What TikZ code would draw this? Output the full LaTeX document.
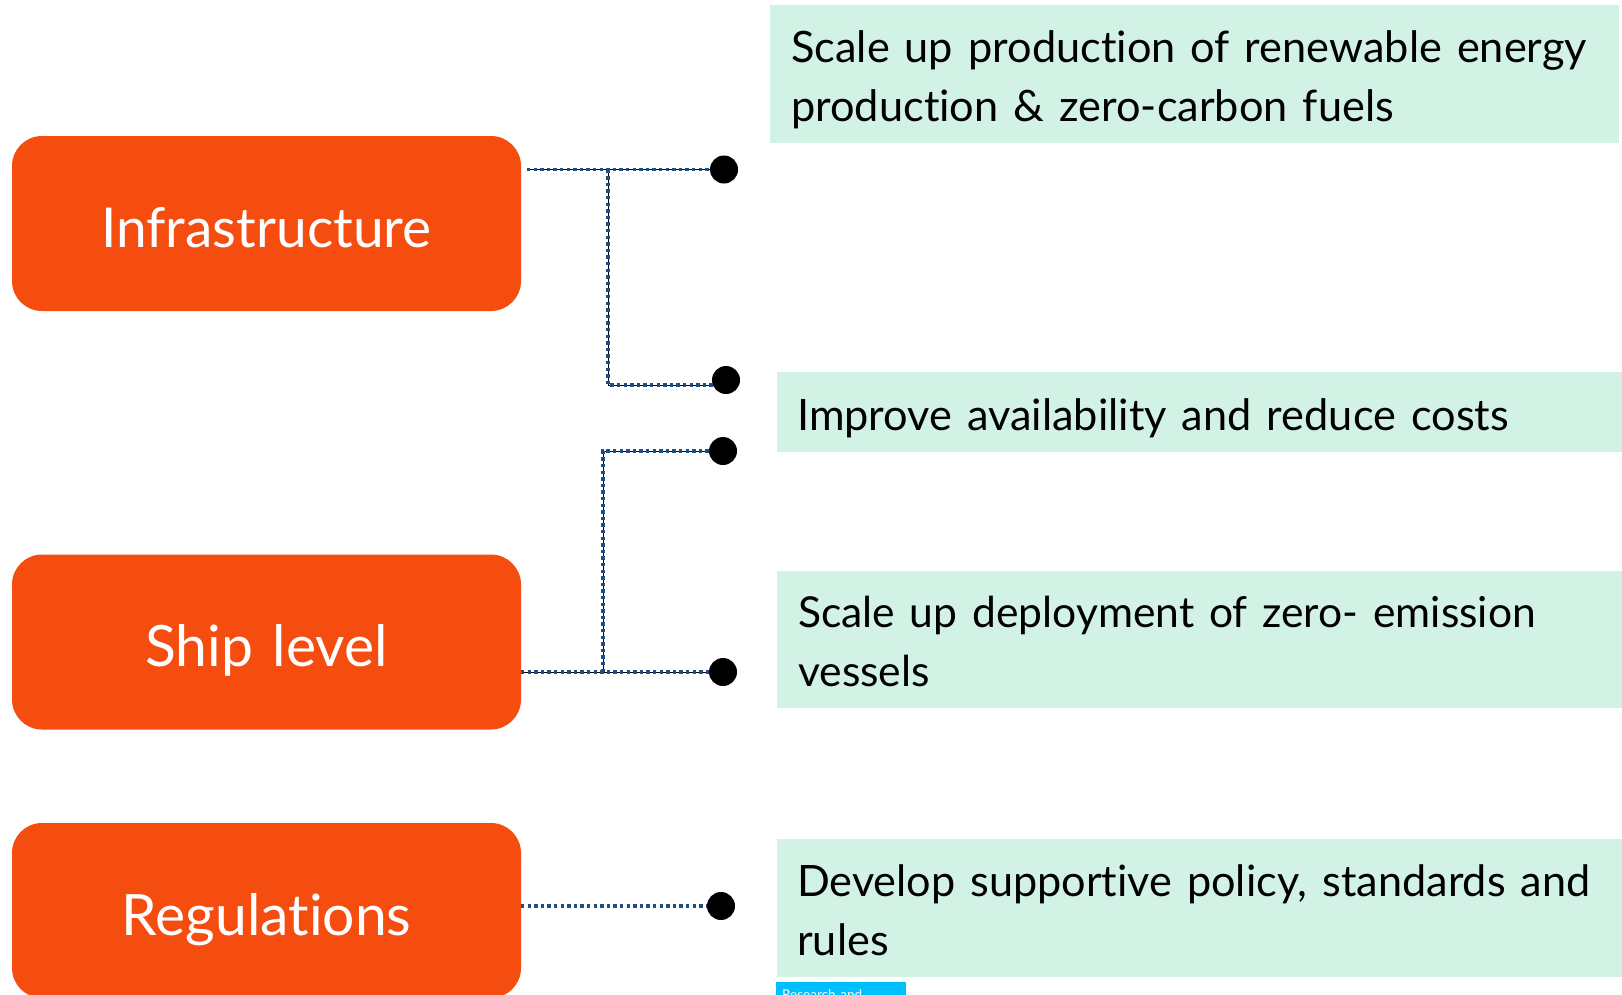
\documentclass[tikz,border=0pt]{standalone}
\usepackage{fontspec}
\setmainfont{Lato}[WordSpace=1.35,Ligatures={NoCommon,NoRare}]
\definecolor{orangebox}{HTML}{F54C0F}
\definecolor{greenbox}{HTML}{D3F2E6}
\definecolor{bluebox}{HTML}{00BFFF}
\definecolor{dotblue}{HTML}{1F4E86}
\tikzset{
  cat/.style={fill=orangebox,rounded corners=30pt,minimum width=509pt,minimum height=175pt,inner sep=0pt},
  cattext/.style={inner sep=0pt,text=white,font=\fontsize{57}{60}\selectfont},
  goal/.style={fill=greenbox,inner sep=0pt,anchor=north west},
  goaltext/.style={inner sep=0pt,align=left,anchor=west,font=\fontsize{43.3}{59.5}\selectfont},
  bullet/.style={circle,fill=black,minimum size=28pt,inner sep=0pt},
  under/.style={draw=black,line width=1pt},
  dots/.style={draw=dotblue,line width=3.5pt,dash pattern=on 3.4pt off 3.2pt},
}
\newcommand{\wire}[1]{\draw[under] #1; \draw[dots] #1;}
\begin{document}
\begin{tikzpicture}[x=1pt,y=-1pt]
\useasboundingbox (0,0) rectangle (1622,994);
\clip (0,0) rectangle (1622,994);
\fill[white] (0,0) rectangle (1622,994);
\node[cat] (infra) at (266.5,223.5) {};
\node[cat] (ship) at (266.5,642) {};
\node[cat] (reg) at (266.5,910.5) {};
\node[cattext,font=\fontsize{55}{60}\selectfont] (ti) at (266.5,228) {Infrastructure};
\node[cattext] (ts) at (266.5,650) {Ship level};
\node[cattext] (tr) at (266.5,919.5) {Regulations};
\node[goal,minimum width=849pt,minimum height=138pt] (g1) at (770,5) {};
\node[goal,minimum width=845pt,minimum height=79.5pt] (g2) at (777,372) {};
\node[goal,minimum width=845pt,minimum height=137pt] (g3) at (777,571) {};
\node[goal,minimum width=845pt,minimum height=138pt] (g4) at (777,839) {};
\node[goaltext] (t1) at (791,80) {Scale up production of renewable energy\\production \& zero-carbon fuels};
\node[goaltext] (t2) at (797,418) {Improve availability and reduce costs};
\node[goaltext,font=\fontsize{42.6}{59.5}\selectfont] (t3) at (798,641.5) {Scale up deployment of zero- emission\\vessels};
\node[goaltext,font=\fontsize{43.2}{59.5}\selectfont] (t4) at (797,910) {Develop supportive policy, standards and\\rules};
\node[fill=bluebox,anchor=north west,minimum width=130pt,minimum height=30pt,inner sep=0pt] (rd) at (776,982) {};
\node[anchor=north west,text=white,inner sep=0pt,font=\fontsize{13.5}{16}\selectfont] (rdt) at (782,989) {Research and};
\node[bullet] (b1) at (724,169.5) {};
\node[bullet] (b2) at (726,380) {};
\node[bullet] (b3) at (723,451) {};
\node[bullet] (b4) at (723,672) {};
\node[bullet] (b5) at (721,906) {};
\coordinate (s1) at (527,169.5);
\coordinate (j1) at (608,169.5);
\coordinate (c1) at (608,385);
\coordinate (e1) at (713,385);
\coordinate (s2) at (521,672);
\coordinate (j2) at (603,672);
\coordinate (c2) at (603,451);
\coordinate (s3) at (521,906);
\wire{(s1) -- (b1)}
\wire{(j1) -- (c1) -- (e1)}
\wire{(s2) -- (b4)}
\wire{(j2) -- (c2) -- (b3)}
\draw[dots] (s3) -- (b5);
\end{tikzpicture}
\end{document}
